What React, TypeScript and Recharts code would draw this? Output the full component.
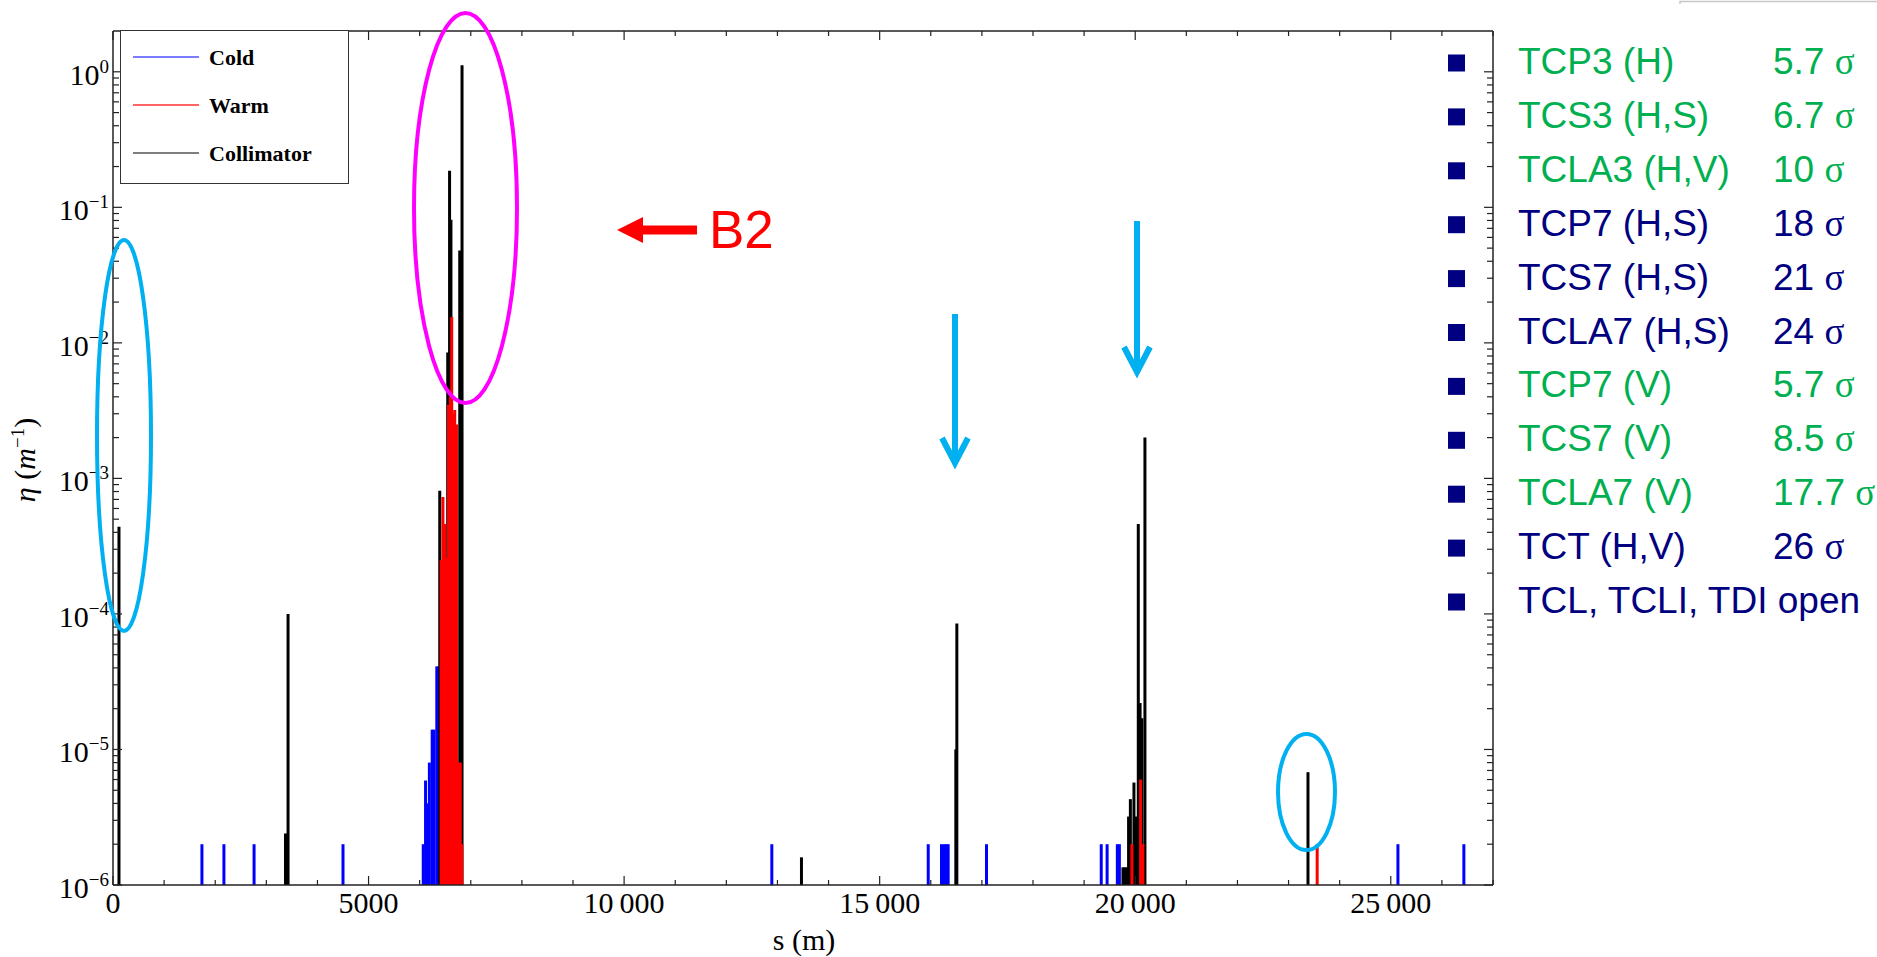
import React from "react";
import { ComposedChart, Line, XAxis, YAxis, Legend } from "recharts";

// [s (m), eta (1/m)] for each loss location
type Hit = [number, number];

const cold: Hit[] = [
  [1740, 2e-6], [2170, 2e-6], [2760, 2e-6], [4500, 2e-6],
  [6070, 2e-6], [6115, 5.9e-6], [6140, 4e-6], [6190, 8e-6], [6245, 1.4e-5],
  [6280, 1.4e-5], [6335, 4.1e-5], [6370, 4.1e-5],
  [12890, 2e-6], [15950, 2e-6], [16210, 2e-6], [16260, 2e-6], [16300, 2e-6],
  [16340, 2e-6], [17090, 2e-6], [19335, 2e-6], [19450, 2e-6], [19650, 2e-6],
  [19690, 2e-6], [25140, 2e-6], [26430, 2e-6],
];

const warm: Hit[] = [
  [6420, 2.5e-4], [6455, 7.3e-4], [6490, 4.6e-4], [6525, 2.6e-4], [6565, 3.5e-3],
  [6600, 4e-3], [6627, 1.55e-2], [6655, 3e-3], [6686, 3.2e-3], [6720, 2.5e-3],
  [6760, 8e-6], [6795, 8e-6], [6825, 2e-6],
  [19935, 2e-6], [20105, 6e-6], [20150, 2e-6], [23560, 2e-6],
];

const collimator: Hit[] = [
  [117, 4.4e-4], [3375, 2.4e-6], [3425, 1e-4],
  [6393, 8.1e-4], [6549, 8.5e-3], [6585, 0.186], [6612, 0.081], [6784, 0.048], [6829, 1.12],
  [13470, 1.6e-6], [16490, 1e-5], [16510, 8.5e-5],
  [19760, 1.35e-6], [19800, 1.35e-6], [19840, 1.35e-6], [19870, 3.2e-6], [19905, 4.3e-6],
  [19975, 5.7e-6], [20015, 3.2e-6], [20060, 4.6e-4], [20095, 2.2e-5], [20130, 1.7e-5],
  [20190, 2.0e-3],
  [23380, 6.8e-6],
];

const legendNames = ["Cold", "Warm", "Collimator"];

const settingNames = [
  "TCP3 (H)", "TCS3 (H,S)", "TCLA3 (H,V)", "TCP7 (H,S)", "TCS7 (H,S)", "TCLA7 (H,S)",
  "TCP7 (V)", "TCS7 (V)", "TCLA7 (V)", "TCT (H,V)", "TCL, TCLI, TDI open",
];
const settingSigma = ["5.7", "6.7", "10", "18", "21", "24", "5.7", "8.5", "17.7", "26", ""];
const settingChanged = [true, true, true, false, false, false, true, true, true, false, false];

const ETA_FLOOR = 1e-6;
const ETA_TOP = 2;
const S_MAX = 27000;
const sTicks = Array.from({ length: 28 }, (_, i) => i * 1000);
const decades = [-6, -5, -4, -3, -2, -1, 0];
const mantissas = [1, 2, 3, 4, 5, 6, 7, 8, 9];
const etaTicks = decades
  .flatMap((e) => mantissas.map((m) => m * Math.pow(10, e)))
  .filter((v) => v <= 1.0000001);

const W = 1877;
const H = 957;
const SERIF = "'Liberation Serif', 'Times New Roman', serif";
const SANS = "'Liberation Sans', Arial, sans-serif";
const AXIS = "#222";
const COLD = "#0000ff";
const WARM = "#ff0000";
const COLL = "#000000";
const GREEN = "#00b050";
const NAVY = "#000080";
const CYAN = "#00b0f0";
const MAGENTA = "#ff00ff";

function fmtS(v: number) {
  if (v < 10000) return String(v);
  const k = Math.floor(v / 1000);
  return `${k}\u2009000`;
}

function isDecade(v: number) {
  const l = Math.log10(v);
  return Math.abs(l - Math.round(l)) < 1e-6;
}

function BottomTick(props: any) {
  const { x, y, payload } = props;
  const v = payload.value as number;
  const major = v % 5000 === 0;
  return (
    <g>
      <line x1={x} x2={x} y1={y} y2={y - (major ? 9 : 5)} stroke={AXIS} strokeWidth={1.2} />
      {major && (
        <text x={x} y={y + 28} textAnchor="middle" fontFamily={SERIF} fontSize={30} fill="#000">
          {fmtS(v)}
        </text>
      )}
    </g>
  );
}

function TopTick(props: any) {
  const { x, y, payload } = props;
  const major = (payload.value as number) % 5000 === 0;
  return <line x1={x} x2={x} y1={y} y2={y + (major ? 9 : 5)} stroke={AXIS} strokeWidth={1.2} />;
}

function LeftTick(props: any) {
  const { x, y, payload } = props;
  const v = payload.value as number;
  const major = isDecade(v);
  const e = Math.round(Math.log10(v));
  return (
    <g>
      <line x1={x} x2={x + (major ? 9 : 6)} y1={y} y2={y} stroke={AXIS} strokeWidth={1.2} />
      {major && (
        <text x={x - 4} y={y + 13} textAnchor="end" fontFamily={SERIF} fontSize={30} fill="#000">
          10
          <tspan dy={-12} fontSize={19}>
            {e === 0 ? "0" : `\u2212${-e}`}
          </tspan>
        </text>
      )}
    </g>
  );
}

function RightTick(props: any) {
  const { x, y, payload } = props;
  const major = isDecade(payload.value as number);
  return <line x1={x} x2={x - (major ? 9 : 6)} y1={y} y2={y} stroke={AXIS} strokeWidth={1.2} />;
}

function LegendBox() {
  const colors = ["#5050ff", "#ff3030", "#555555"];
  return (
    <svg width={229} height={154} style={{ display: "block" }}>
      <rect x={0.5} y={0.5} width={228} height={153} fill="#fff" stroke="#333" strokeWidth={1} />
      {legendNames.map((name, i) => {
        const cy = 27 + i * 48;
        return (
          <g key={name}>
            <line x1={13} x2={79} y1={cy} y2={cy} stroke={colors[i]} strokeWidth={1.5} />
            <text x={89} y={cy + 8} fontFamily={SERIF} fontSize={22} fontWeight="bold" fill="#000">
              {name}
            </text>
          </g>
        );
      })}
    </svg>
  );
}

// each hit is a vertical stick from the floor of the log axis up to eta
function bars(hits: Hit[], color: string, id: string, xId: string, yId: string) {
  return hits.map(([s, eta], i) => (
    <Line
      key={`${id}-${i}`}
      xAxisId={xId}
      yAxisId={yId}
      data={[
        { s, eta: ETA_FLOOR },
        { s, eta },
      ]}
      dataKey="eta"
      stroke={color}
      strokeWidth={3}
      dot={false}
      activeDot={false}
      legendType="none"
      isAnimationActive={false}
    />
  ));
}

function Overlay() {
  const rowY = (i: number) => 63 + i * 53.9;
  return (
    <svg
      width={W}
      height={H}
      style={{ position: "absolute", left: 0, top: 0, pointerEvents: "none" }}
    >
      <text x={804} y={950} textAnchor="middle" fontFamily={SERIF} fontSize={30} fill="#000">
        s (m)
      </text>
      <text
        x={35}
        y={460}
        transform="rotate(-90 35 460)"
        textAnchor="middle"
        fontFamily={SERIF}
        fontSize={30}
        fill="#000"
      >
        <tspan fontStyle="italic">η</tspan> (<tspan fontStyle="italic">m</tspan>
        <tspan dy={-11} fontSize={19}>
          {"\u22121"}
        </tspan>
        <tspan dy={11}>)</tspan>
      </text>

      <ellipse cx={124} cy={435.5} rx={27} ry={195.5} fill="none" stroke={CYAN} strokeWidth={4} />
      <ellipse cx={465.5} cy={208} rx={51.5} ry={195} fill="none" stroke={MAGENTA} strokeWidth={4} />
      <ellipse cx={1306.5} cy={792} rx={28.5} ry={58} fill="none" stroke={CYAN} strokeWidth={4} />

      <g stroke={CYAN} strokeWidth={6} fill="none" strokeLinecap="butt">
        <line x1={955} y1={314} x2={955} y2={462} />
        <polyline points="942,438 955,463 968,438" />
        <line x1={1137} y1={221} x2={1137} y2={371} />
        <polyline points="1124,347 1137,372 1150,347" />
      </g>

      <g fill={WARM}>
        <polygon points="617,230 643,217 643,243" />
        <rect x={642} y={225.5} width={55} height={9} />
        <text x={709} y={248} fontFamily={SANS} fontSize={53}>
          B2
        </text>
      </g>

      {settingNames.map((name, i) => {
        const y = rowY(i);
        const color = settingChanged[i] ? GREEN : NAVY;
        return (
          <g key={name + i}>
            <rect x={1448} y={y - 8.5} width={17} height={17} fill={NAVY} />
            <text x={1518} y={y + 11} fontFamily={SANS} fontSize={37} fill={color}>
              {name}
            </text>
            {settingSigma[i] && (
              <text x={1773} y={y + 11} fontFamily={SANS} fontSize={37} fill={color}>
                {settingSigma[i]}{" "}
                <tspan fontFamily={SERIF}>σ</tspan>
              </text>
            )}
          </g>
        );
      })}

      <polyline points="1680,4 1680,1.5 1877,1.5" fill="none" stroke="#c8c8c8" strokeWidth={1.5} />
    </svg>
  );
}

export default function App() {
  return (
    <div style={{ position: "absolute", left: 0, top: 0, width: W, height: H, background: "#fff" }}>
      <ComposedChart width={W} height={H} margin={{ top: 30, right: 383, bottom: 0, left: 0 }}>
        <XAxis
          xAxisId="bottom"
          dataKey="s"
          type="number"
          domain={[0, S_MAX]}
          allowDataOverflow
          ticks={sTicks}
          interval={0}
          height={72}
          tickSize={0}
          tickMargin={0}
          tickLine={false}
          axisLine={{ stroke: AXIS, strokeWidth: 1.5 }}
          tick={<BottomTick />}
        />
        <XAxis
          xAxisId="top"
          orientation="top"
          dataKey="s"
          type="number"
          domain={[0, S_MAX]}
          allowDataOverflow
          ticks={sTicks}
          interval={0}
          height={1}
          tickSize={0}
          tickMargin={0}
          tickLine={false}
          axisLine={{ stroke: AXIS, strokeWidth: 1.5 }}
          tick={<TopTick />}
        />
        <YAxis
          yAxisId="left"
          type="number"
          scale="log"
          domain={[ETA_FLOOR, ETA_TOP]}
          allowDataOverflow
          ticks={etaTicks}
          interval={0}
          width={113}
          tickSize={0}
          tickMargin={0}
          tickLine={false}
          axisLine={{ stroke: AXIS, strokeWidth: 1.5 }}
          tick={<LeftTick />}
        />
        <YAxis
          yAxisId="right"
          orientation="right"
          type="number"
          scale="log"
          domain={[ETA_FLOOR, ETA_TOP]}
          allowDataOverflow
          ticks={etaTicks}
          interval={0}
          width={1}
          tickSize={0}
          tickMargin={0}
          tickLine={false}
          axisLine={{ stroke: AXIS, strokeWidth: 1.5 }}
          tick={<RightTick />}
        />
        <Legend
          layout="vertical"
          align="center"
          verticalAlign="middle"
          content={() => <LegendBox />}
          wrapperStyle={{ left: 120, top: 30, width: 229, height: 154 }}
        />
        {bars(cold, COLD, "cold", "bottom", "left")}
        {bars(collimator, COLL, "coll", "bottom", "left")}
        {/* warm sticks sit on the mirrored frame axes (same domain) so those axes stay live */}
        {bars(warm, WARM, "warm", "top", "right")}
      </ComposedChart>
      <Overlay />
    </div>
  );
}
